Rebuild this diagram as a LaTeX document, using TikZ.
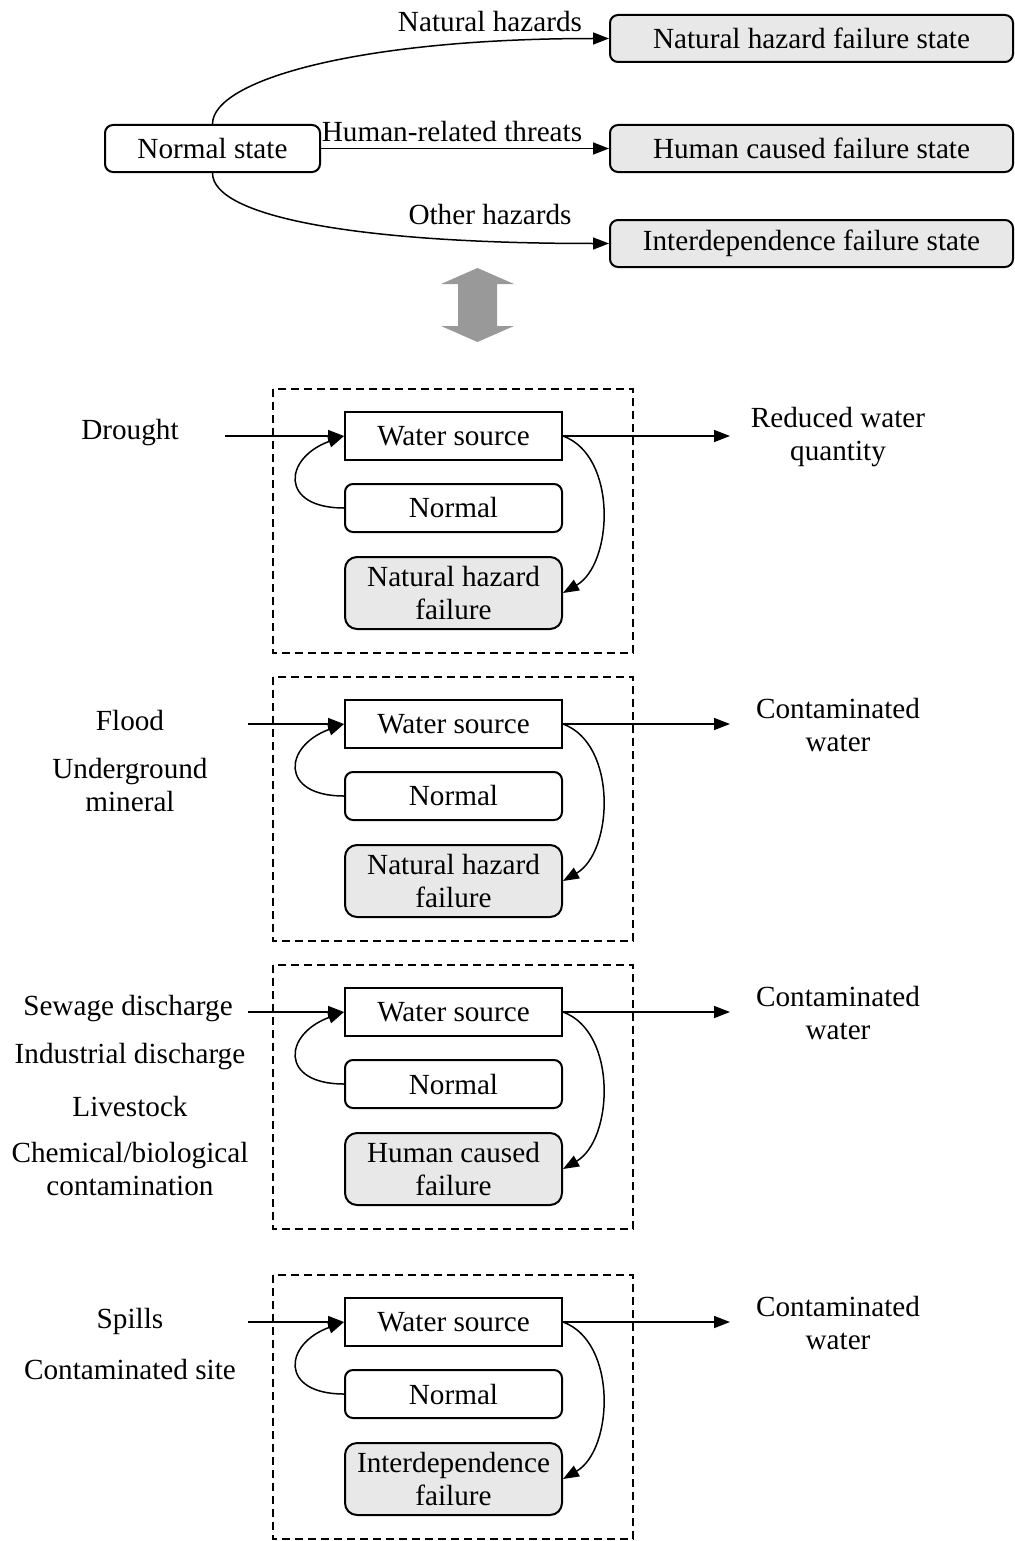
\documentclass[tikz,border=0pt]{standalone}
\usepackage{fontspec}
\setmainfont{Liberation Serif}
\usetikzlibrary{arrows.meta}
\definecolor{failure gray}{RGB}{232,232,232}
\definecolor{arrow gray}{RGB}{153,153,153}

\tikzset{
	state/.style={draw, line width=1pt, rounded corners=4pt, minimum height=23.5pt, inner sep=0pt},
	failstate/.style={state, fill=failure gray, minimum width=201.5pt},
	block/.style={draw, line width=1pt, minimum width=108.5pt, minimum height=24pt, inner sep=0pt, align=center},
	txt/.style={align=center, inner sep=0pt},
	link/.style={-{Triangle[length=8pt,width=6pt]}, line width=0.75pt}
}

\begin{document}
\begin{tikzpicture}[x=0.5pt, y=-0.5pt, font=\fontsize{14.6}{16.5}\selectfont]
			\useasboundingbox (0,0) rectangle (1015,1541);
			% states
			\begin{scope}
				\node[state, minimum width=107.5pt] (normal) at (212.5,148.5) {Normal state};
				\node[failstate] (natfail) at (811.5,38.5) {Natural hazard failure state};
				\node[failstate] (humfail) at (811.5,148.5) {Human caused failure state};
				\node[failstate] (intfail) at (811.5,243.5) {Interdependence failure state};
			\end{scope}
			% transitions
			\draw[link] (normal.north) to[out=90, in=180, out distance=22pt, in distance=125pt] (natfail.west);
			\draw[link] (normal.east) -- (humfail.west);
			\draw[link] (normal.south) to[out=-90, in=180, out distance=22pt, in distance=125pt] (intfail.west);
			\node (natlbl) at (490,22) {Natural hazards};
			\node (humlbl) at (452,132) {Human-related threats};
			\node (othlbl) at (490,215) {Other hazards};
			% double arrow
			\fill[arrow gray] (477.5,268) -- (514,284) -- (497,284) -- (497,326) -- (514,326)
				-- (477.5,342) -- (441,326) -- (458,326) -- (458,284) -- (441,284) -- cycle;
			% water source panels
			\foreach \t/\fail/\res/\xin [count=\i] in {
				389/{Natural hazard\\failure}/{Reduced water\\quantity}/225,
				677/{Natural hazard\\failure}/{Contaminated\\water}/248,
				965/{Human caused\\failure}/{Contaminated\\water}/248,
				1275/{Interdependence\\failure}/{Contaminated\\water}/248}
			{
				\draw[dash pattern=on 4pt off 2.5pt, line width=0.75pt] (273,\t) rectangle (633,\t+264);
				\node[block] (ws\i) at (453.5,\t+47) {Water source};
				\node[block, rounded corners=4pt] (nm\i) at (453.5,\t+119) {Normal};
				\node[block, rounded corners=6pt, fill=failure gray, minimum height=36pt] (hf\i) at (453.5,\t+204) {\fail};
				\node[txt] (res\i) at (838,\t+48) {\res};
				\coordinate (src\i) at (\xin,\t+47);
				\coordinate (dst\i) at (730,\t+47);
				\draw[link] (src\i) -- (ws\i.west);
				\draw[link] (ws\i.east) -- (dst\i);
				\draw[link] (nm\i.west) to[out=180, in=200, looseness=2.3] (ws\i.west);
				\draw[link] (ws\i.east) to[out=-20, in=30, looseness=0.95] (hf\i.east);
			}
			% causes
			\node (drought) at (130,433) {Drought};
			\node (flood) at (130,721) {Flood};
			\node[txt] (mineral) at (130,785) {Underground\\mineral};
			\node (sewage) at (128,1009) {Sewage discharge};
			\node (industry) at (130,1057) {Industrial discharge};
			\node (livestock) at (130,1106) {Livestock};
			\node[txt] (chemical) at (130,1169) {Chemical/biological\\contamination};
			\node (spills) at (130,1321) {Spills};
			\node (site) at (130,1369) {Contaminated site};
		\end{tikzpicture}
\end{document}
